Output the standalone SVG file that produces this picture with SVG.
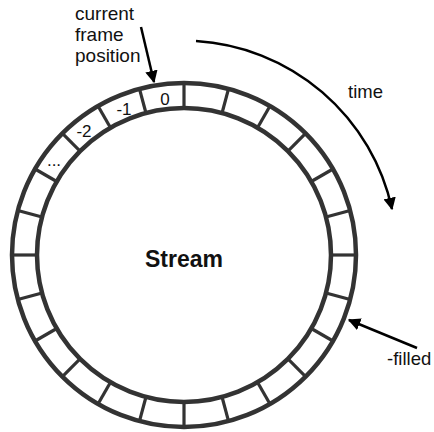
<svg xmlns="http://www.w3.org/2000/svg" xmlns:xlink="http://www.w3.org/1999/xlink" width="434" height="432" viewBox="0 0 434 432">
<style>
.ring{fill:none;stroke:#333;stroke-width:4.5}
.tick{stroke:#333;stroke-width:3.2}
.lbl{font-family:"Liberation Sans",Arial,sans-serif;font-size:18.5px;fill:#111}
.cell{font-family:"Liberation Sans",Arial,sans-serif;font-size:17px;fill:#111;text-anchor:middle}
.arr{fill:none;stroke:#000;stroke-width:2.5}
</style>
<defs>
<marker id="ah" viewBox="0 0 10 10" refX="9" refY="5" markerWidth="5" markerHeight="5" markerUnits="strokeWidth" orient="auto">
<path d="M0,0 L10,5 L0,10 z" fill="#000"/>
</marker>
<line id="tk" class="tick" x1="184" y1="108" x2="184" y2="83"/>
</defs>
<rect width="434" height="432" fill="#fff"/>
<g id="stream">
<circle class="ring" cx="184" cy="255" r="172"/>
<circle class="ring" cx="184" cy="255" r="147"/>
<use xlink:href="#tk"/>
<use xlink:href="#tk" transform="rotate(15 184 255)"/>
<use xlink:href="#tk" transform="rotate(30 184 255)"/>
<use xlink:href="#tk" transform="rotate(45 184 255)"/>
<use xlink:href="#tk" transform="rotate(60 184 255)"/>
<use xlink:href="#tk" transform="rotate(75 184 255)"/>
<use xlink:href="#tk" transform="rotate(90 184 255)"/>
<use xlink:href="#tk" transform="rotate(105 184 255)"/>
<use xlink:href="#tk" transform="rotate(120 184 255)"/>
<use xlink:href="#tk" transform="rotate(135 184 255)"/>
<use xlink:href="#tk" transform="rotate(150 184 255)"/>
<use xlink:href="#tk" transform="rotate(165 184 255)"/>
<use xlink:href="#tk" transform="rotate(180 184 255)"/>
<use xlink:href="#tk" transform="rotate(195 184 255)"/>
<use xlink:href="#tk" transform="rotate(210 184 255)"/>
<use xlink:href="#tk" transform="rotate(225 184 255)"/>
<use xlink:href="#tk" transform="rotate(240 184 255)"/>
<use xlink:href="#tk" transform="rotate(255 184 255)"/>
<use xlink:href="#tk" transform="rotate(270 184 255)"/>
<use xlink:href="#tk" transform="rotate(285 184 255)"/>
<use xlink:href="#tk" transform="rotate(300 184 255)"/>
<use xlink:href="#tk" transform="rotate(315 184 255)"/>
<use xlink:href="#tk" transform="rotate(330 184 255)"/>
<use xlink:href="#tk" transform="rotate(345 184 255)"/>
<text class="cell" x="165" y="105">0</text>
<text class="cell" x="124" y="115">-1</text>
<text class="cell" x="84" y="137">-2</text>
<text class="cell" x="54" y="166">...</text>
<text x="184" y="267" text-anchor="middle" style="font-family:'Liberation Sans',Arial,sans-serif;font-size:23px;font-weight:bold;fill:#111">Stream</text>
</g>
<g id="labels">
<text class="lbl" style="font-size:19px"><tspan x="75" y="20">current</tspan><tspan x="75" y="41">frame</tspan><tspan x="75" y="62">position</tspan></text>
<text class="lbl" x="348" y="98">time</text>
<text class="lbl" x="387" y="365">-filled</text>
</g>
<g id="connectors">
<path class="arr" d="M141,27 L154,82" marker-end="url(#ah)"/>
<path class="arr" d="M196,41 A214,214 0 0 1 392,209" marker-end="url(#ah)"/>
<path class="arr" d="M417,348 L349,320" marker-end="url(#ah)"/>
</g>
</svg>
